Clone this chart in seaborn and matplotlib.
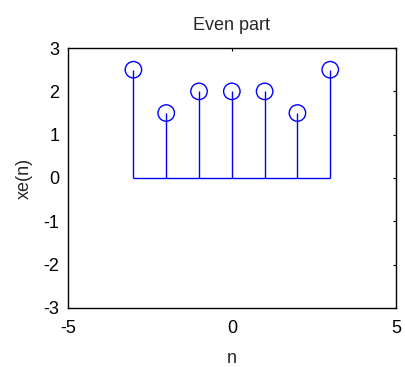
import matplotlib
matplotlib.use("Agg")
import matplotlib.pyplot as plt
import seaborn as sns
import pandas as pd

n = [-3, -2, -1, 0, 1, 2, 3]
xe = [2.5, 1.5, 2.0, 2.0, 2.0, 1.5, 2.5]
xticks = [-5, 0, 5]
yticks = [-3, -2, -1, 0, 1, 2, 3]

sns.set_style("white")
plt.rcParams['font.family'] = ['Liberation Sans', 'DejaVu Sans']
plt.rcParams['axes.unicode_minus'] = False

df = pd.DataFrame({"n": n, "xe": xe})

fig = plt.figure(figsize=(4.06, 3.67), dpi=100)
ax = fig.add_axes([0.167, 0.161, 0.808, 0.708])

ax.vlines(df["n"], 0, df["xe"], color="#0000ff", lw=1.0, zorder=2)
ax.hlines(0, min(n), max(n), color="#0000ff", lw=1.0, zorder=2)
sns.scatterplot(data=df, x="n", y="xe", ax=ax, marker="o", s=140,
                facecolor="none", edgecolor="#0000ff", linewidth=1.0, zorder=3)

ax.set_xlim(-5, 5)
ax.set_ylim(-3, 3)
ax.set_xticks(xticks)
ax.set_yticks(yticks)
ax.tick_params(direction="in", length=2.5, width=0.8, labelsize=13, top=True, right=True,
               colors="black")
ax.tick_params(axis="x", pad=9)
ax.tick_params(axis="y", pad=6)
for s in ax.spines.values():
    s.set_color("black")
    s.set_linewidth(1.0)
ax.set_title("Even part", fontsize=13, pad=13)
ax.set_xlabel("n", fontsize=13, labelpad=9)
ax.set_ylabel("xe(n)", fontsize=13, labelpad=8)

fig.savefig("out.png", dpi=100)
